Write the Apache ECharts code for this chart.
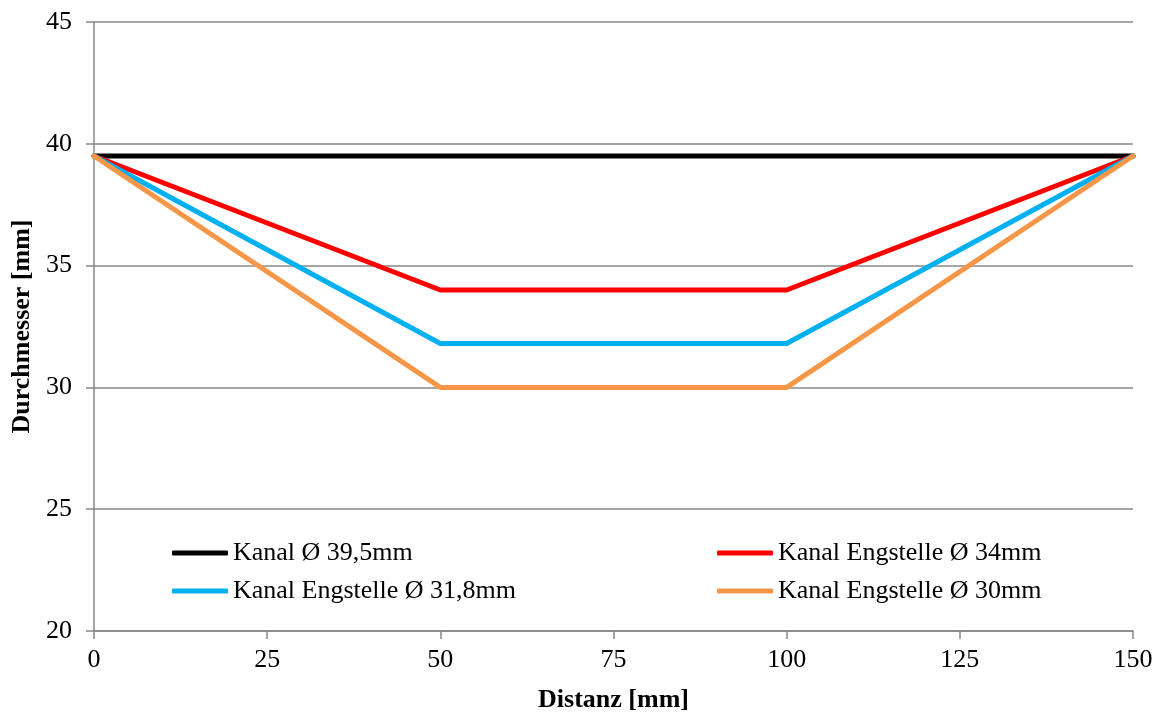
<!DOCTYPE html>
<html>
<head>
<meta charset="utf-8">
<script src="https://cdn.jsdelivr.net/npm/echarts@6/dist/echarts.min.js"></script>
<style>html,body{margin:0;padding:0;background:#fff}#c{width:1164px;height:717px}</style>
</head>
<body>
<div id="c"></div>
<script>
const distanz = [0, 50, 100, 150];
const names = ['Kanal Ø 39,5mm', 'Kanal Engstelle Ø 34mm', 'Kanal Engstelle Ø 31,8mm', 'Kanal Engstelle Ø 30mm'];
const kanal395 = [39.5, 39.5, 39.5, 39.5];
const eng34 = [39.5, 34, 34, 39.5];
const eng318 = [39.5, 31.8, 31.8, 39.5];
const eng30 = [39.5, 30, 30, 39.5];
const colors = ['#000000', '#FF0000', '#00B0F0', '#F79646'];
const values = [kanal395, eng34, eng318, eng30];

const font = '"Liberation Serif", "Times New Roman", serif';
const chart = echarts.init(document.getElementById('c'));
const legendCommon = {
  orient: 'vertical', itemWidth: 56, itemHeight: 5, itemGap: 12,
  icon: 'roundRect', padding: 0,
  textStyle: { fontFamily: font, fontSize: 26, lineHeight: 26, color: '#000', padding: [0,0,0,0] },
};
chart.setOption({
  animation: false,
  grid: { left: 94, right: 31, top: 22, bottom: 86, outerBoundsMode: 'none', containLabel: false },
  legend: [
    Object.assign({ left: 172, top: 540, data: [names[0], names[2]] }, legendCommon),
    Object.assign({ left: 717, top: 540, data: [names[1], names[3]] }, legendCommon)
  ],
  xAxis: {
    type: 'value', min: 0, max: 150, interval: 25,
    name: 'Distanz [mm]', nameLocation: 'middle', nameGap: 56,
    nameTextStyle: { fontFamily: font, fontSize: 26, fontWeight: 'bold', color: '#000' },
    axisLine: { show: true, lineStyle: { color: '#888', width: 1.5 } },
    axisTick: { show: true, length: 8, lineStyle: { color: '#888', width: 1.5 } },
    axisLabel: { fontFamily: font, fontSize: 26, color: '#000', margin: 16 },
    splitLine: { show: false }
  },
  yAxis: {
    type: 'value', min: 20, max: 45, interval: 5,
    name: 'Durchmesser [mm]', nameLocation: 'middle', nameGap: 59,
    nameTextStyle: { fontFamily: font, fontSize: 26, fontWeight: 'bold', color: '#000' },
    axisLine: { show: true, lineStyle: { color: '#888', width: 1.5 } },
    axisTick: { show: true, length: 8, lineStyle: { color: '#888', width: 1.5 } },
    axisLabel: { fontFamily: font, fontSize: 26, color: '#000', margin: 22 },
    splitLine: { show: true, lineStyle: { color: '#888', width: 1.5 } }
  },
  series: names.map((n, i) => ({
    name: n, type: 'line', showSymbol: false, symbol: 'none',
    color: colors[i],
    lineStyle: { width: 5, color: colors[i], cap: 'round', join: 'round' },
    data: distanz.map((d, j) => [d, values[i][j]])
  }))
});
</script>
</body>
</html>
